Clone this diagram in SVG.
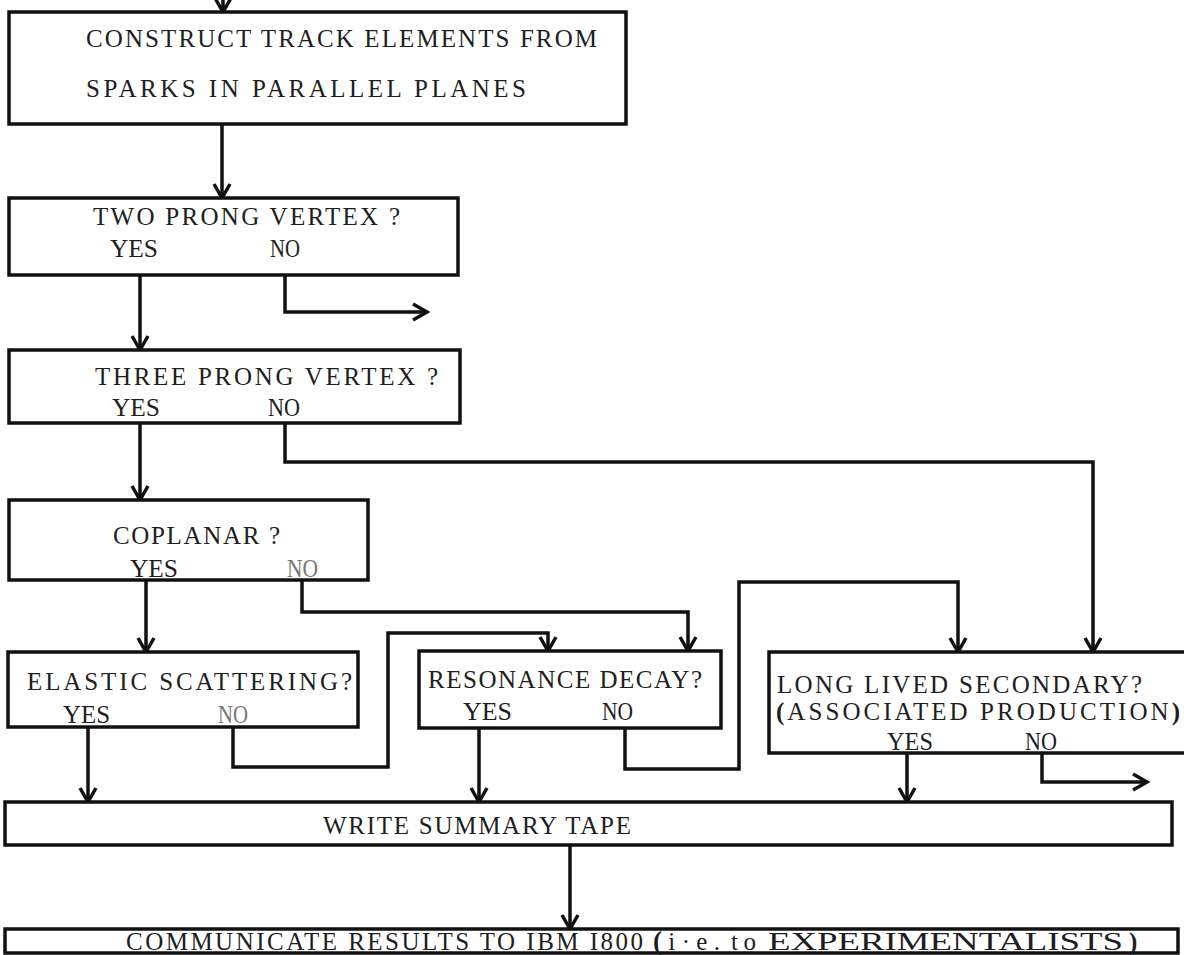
<svg xmlns="http://www.w3.org/2000/svg" width="1184" height="955" viewBox="0 0 1184 955">
<style>
.box{fill:#fff;stroke:#111;stroke-width:3.5}
.con{fill:none;stroke:#111;stroke-width:3.5;stroke-linejoin:miter}
.t{font-family:"Liberation Serif","Times New Roman",serif;font-size:25px;fill:#1e1e1e}
.faint{fill:#777}
.b{font-weight:bold}
</style>
<defs>
<marker id="ah" markerUnits="userSpaceOnUse" markerWidth="20" markerHeight="22" viewBox="-16 -11 18 22" refX="0" refY="0" orient="auto" overflow="visible">
<path d="M -14 -8 L 0 0 L -14 8" fill="none" stroke="#111" stroke-width="3.5"/>
</marker>
</defs>
<rect width="1184" height="955" fill="#fff"/>
<g id="connectors">
<path class="con" d="M223 -5 L223 12" marker-end="url(#ah)"/>
<path class="con" d="M222 124 L222 198" marker-end="url(#ah)"/>
<path class="con" d="M140 275 L140 350" marker-end="url(#ah)"/>
<path class="con" d="M285 275 L285 312 L427 312" marker-end="url(#ah)"/>
<path class="con" d="M140 423 L140 500" marker-end="url(#ah)"/>
<path class="con" d="M285 423 L285 462 L1093 462 L1093 652" marker-end="url(#ah)"/>
<path class="con" d="M146 580 L146 652" marker-end="url(#ah)"/>
<path class="con" d="M302 580 L302 612 L688 612 L688 651" marker-end="url(#ah)"/>
<path class="con" d="M233 727 L233 767 L388 767 L388 633 L548 633 L548 651" marker-end="url(#ah)"/>
<path class="con" d="M625 728 L625 769 L739 769 L739 582 L958 582 L958 652" marker-end="url(#ah)"/>
<path class="con" d="M88 727 L88 802" marker-end="url(#ah)"/>
<path class="con" d="M479 728 L479 802" marker-end="url(#ah)"/>
<path class="con" d="M907 753 L907 802" marker-end="url(#ah)"/>
<path class="con" d="M1042 753 L1042 782 L1147 782" marker-end="url(#ah)"/>
<path class="con" d="M570 845 L570 929" marker-end="url(#ah)"/>
</g>
<g id="construct">
<rect class="box" x="9" y="12" width="617" height="112"/>
<text class="t" x="86" y="47" textLength="511" lengthAdjust="spacing">CONSTRUCT TRACK ELEMENTS FROM</text>
<text class="t" x="86" y="97" textLength="440" lengthAdjust="spacing">SPARKS IN PARALLEL PLANES</text>
</g>
<g id="two-prong">
<rect class="box" x="9" y="198" width="449" height="77"/>
<text class="t" x="93" y="225" textLength="307" lengthAdjust="spacing">TWO PRONG VERTEX ?</text>
<text class="t" x="110" y="257" textLength="48" lengthAdjust="spacingAndGlyphs">YES</text>
<text class="t" x="270" y="257" textLength="30" lengthAdjust="spacingAndGlyphs">NO</text>
</g>
<g id="three-prong">
<rect class="box" x="9" y="350" width="451" height="73"/>
<text class="t" x="95" y="385" textLength="343" lengthAdjust="spacing">THREE PRONG VERTEX ?</text>
<text class="t" x="112" y="416" textLength="48" lengthAdjust="spacingAndGlyphs">YES</text>
<text class="t" x="268" y="416" textLength="32" lengthAdjust="spacingAndGlyphs">NO</text>
</g>
<g id="coplanar">
<rect class="box" x="9" y="500" width="359" height="80"/>
<text class="t" x="113" y="544" textLength="167" lengthAdjust="spacing">COPLANAR ?</text>
<text class="t" x="130" y="577" textLength="48" lengthAdjust="spacingAndGlyphs">YES</text>
<text class="t faint" x="287" y="577" textLength="31" lengthAdjust="spacingAndGlyphs">NO</text>
</g>
<g id="elastic">
<rect class="box" x="8" y="652" width="350" height="75"/>
<text class="t" x="27" y="690" textLength="325" lengthAdjust="spacing">ELASTIC SCATTERING?</text>
<text class="t" x="63" y="723" textLength="47" lengthAdjust="spacingAndGlyphs">YES</text>
<text class="t faint" x="218" y="723" textLength="30" lengthAdjust="spacingAndGlyphs">NO</text>
</g>
<g id="resonance">
<rect class="box" x="419" y="651" width="302" height="77"/>
<text class="t" x="428" y="688" textLength="274" lengthAdjust="spacing">RESONANCE DECAY?</text>
<text class="t" x="463" y="720" textLength="49" lengthAdjust="spacingAndGlyphs">YES</text>
<text class="t" x="602" y="720" textLength="31" lengthAdjust="spacingAndGlyphs">NO</text>
</g>
<g id="long-lived">
<rect class="box" x="769" y="652" width="425" height="101"/>
<text class="t" x="777" y="693" textLength="365" lengthAdjust="spacing">LONG LIVED SECONDARY?</text>
<text class="t" x="776" y="720" textLength="404" lengthAdjust="spacing"><tspan class="b">(</tspan>ASSOCIATED PRODUCTION<tspan class="b">)</tspan></text>
<text class="t" x="887" y="750" textLength="46" lengthAdjust="spacingAndGlyphs">YES</text>
<text class="t" x="1025" y="750" textLength="32" lengthAdjust="spacingAndGlyphs">NO</text>
</g>
<g id="summary">
<rect class="box" x="5" y="802" width="1167" height="43"/>
<text class="t" x="323" y="834" textLength="308" lengthAdjust="spacing">WRITE SUMMARY TAPE</text>
</g>
<g id="communicate">
<rect class="box" x="5" y="929" width="1173" height="24"/>
<text class="t" x="126" y="950" font-size="23" textLength="517" lengthAdjust="spacing">COMMUNICATE RESULTS TO IBM I800</text>
<text class="t" x="653" y="950" font-size="24" textLength="67" lengthAdjust="spacing"><tspan class="b" font-size="27">(</tspan>i·e.</text>
<text class="t" x="731" y="950" font-size="17" textLength="25" lengthAdjust="spacing">to</text>
<text class="t" x="768" y="950" font-size="24" textLength="355" lengthAdjust="spacingAndGlyphs">EXPERIMENTALISTS</text>
<text class="t b" x="1129" y="950" font-size="27">)</text>
</g>
</svg>
